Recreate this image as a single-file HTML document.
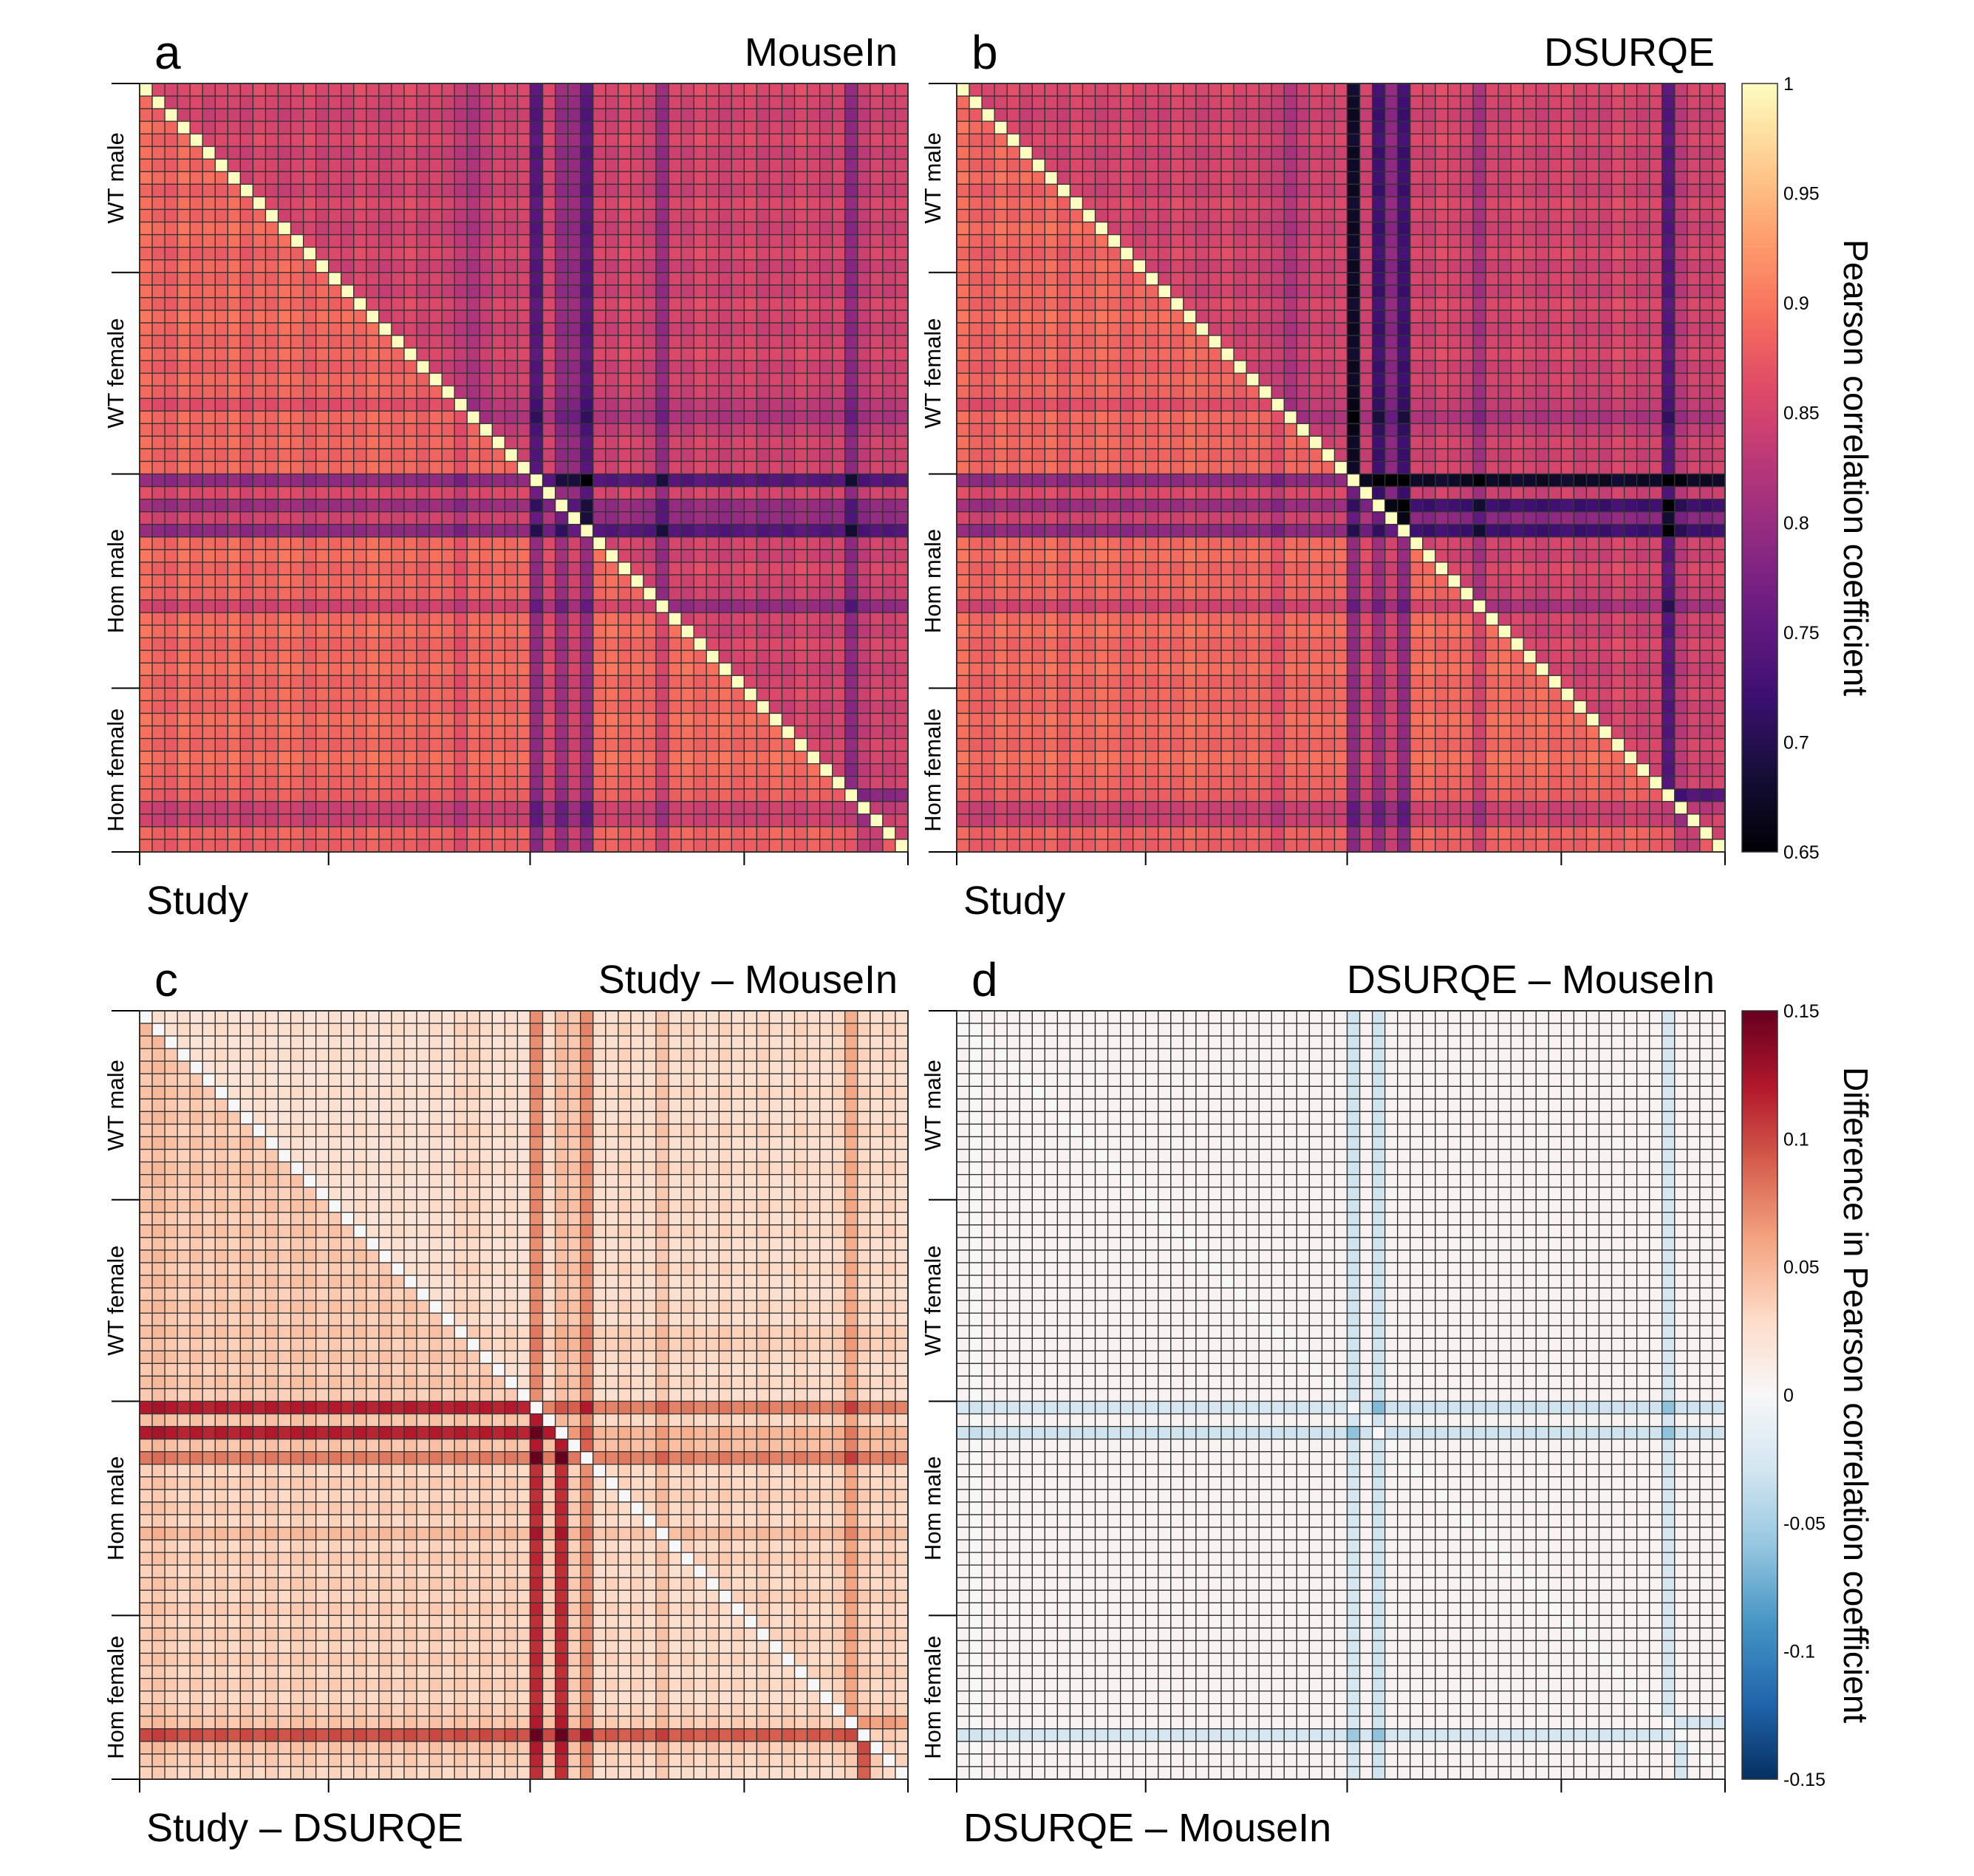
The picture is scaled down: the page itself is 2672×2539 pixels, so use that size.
<!DOCTYPE html>
<html><head><meta charset="utf-8"><style>
html,body{margin:0;padding:0;background:#fff}
svg{display:block}
text{font-family:"Liberation Sans",Arial,sans-serif;fill:#000}
</style></head><body>
<svg id="fig" width="2672" height="2539" viewBox="0 0 2672 2539" xmlns="http://www.w3.org/2000/svg">
<defs>
<linearGradient id="gMag" x1="0" y1="1" x2="0" y2="0"></linearGradient>
<linearGradient id="gRdBu" x1="0" y1="1" x2="0" y2="0"></linearGradient>
</defs>
<g id="panels"></g>
<g id="bars"></g>
</svg>
<script>
// ---- data ----
const groupNames = ["WT male","WT female","Hom male","Hom female"];
const groupBounds = [0,15,31,48,61];
const magTicks = [1,0.95,0.9,0.85,0.8,0.75,0.7,0.65];
const diffTicks = [0.15,0.1,0.05,0,-0.05,-0.1,-0.15];
// per-sample effect estimates
const studyK = [0,0.1,0.15,0,0.1,0.05,0.1,0,0.15,0.05,0.1,0,0.05,0.15,0.05,
 0.1,0.05,0.1,0,0.05,0.1,0.05,0.15,0.05,0.1,0.3,0.05,0.1,0.05,0.1,0.05,
 1.0,0.35,0.9,0.45,1.0,0.05,0,0.1,0.05,0.1,0.45,0.05,0,0.1,0.05,0,0.1,
 0.05,0.1,0,0.05,0.1,0,0.05,0.1,0.15,0.5,0.5,0.1,0.15];
const mouseInK = [0,0.05,0.1,0.05,0,0.1,0.05,0.05,0.1,0,0.05,0.1,0.05,0,0.1,
 0.05,0.1,0,0.05,0.1,0.05,0,0.1,0.05,0.1,0.2,0.3,0.15,0.05,0.1,0.05,
 0.85,0.05,0.45,0.45,0.85,0.05,0.1,0,0.05,0.1,0.45,0.05,0.1,0,0.05,0.1,0.05,
 0,0.1,0.05,0.1,0,0.05,0.1,0.05,0.5,0.15,0.05,0.1,0.05];
const dsurqeK = [0,0.05,0.1,0.05,0,0.1,0.05,0.05,0.1,0,0.05,0.1,0.05,0,0.1,
 0.05,0.1,0,0.05,0.1,0.05,0,0.1,0.05,0.1,0.15,0.3,0.15,0.05,0.1,0.05,
 1.35,0.1,1.0,0.5,1.0,0.05,0.1,0,0.05,0.1,0.35,0.05,0.1,0,0.05,0.1,0.05,
 0,0.1,0.05,0.1,0,0.05,0.1,0.05,0.85,0.2,0.05,0.1,0.05];
const diffCUpper = [0,0.005,0,0.005,0,0,0.005,0,0,0.005,0,0,0.005,0,0,
 0.005,0,0.005,0,0,0.005,0,0,0.005,0,0.01,0.01,0.005,0,0.005,0,
 0.05,0.005,0.025,0.02,0.05,0.005,0.005,0.01,0.005,0.005,0.02,0.005,0.01,0.005,0.005,0.01,0.005,
 0.005,0.01,0.005,0.005,0.01,0.005,0.005,0.01,0.035,0.01,0.005,0.01,0.005];
const diffCLower = [0.01,0.015,0.01,0.005,0.01,0.005,0.01,0.005,0.01,0.005,0.01,0.005,0.01,0.01,0.005,
 0.01,0.005,0.01,0.005,0.01,0.005,0.01,0.005,0.01,0.005,0.01,0.005,0.01,0.005,0.01,0.005,
 0.085,0.01,0.085,0.01,0.045,0,0.005,0,0.005,0,0.015,0,0.005,0,0.005,0,0.005,
 0,0.005,0,0.005,0,0.005,0,0.005,0.01,0.065,0.01,0.005,0];
const diffDUpper = [0,0,0,0,0,0,0,0,0,0,0,0,0,0,0,0,0,0,0,0,0,0,0,0,0,0,0,0,0,0,0,
 -0.035,0,-0.035,0,0,0,0,0,0,0,0,0,0,0,0,0,0,0,0,0,0,0,0,0,0,-0.03,0,0,0,0];
const diffDLower = [0,-0.004,0,0,0,0,0,0,0,0,0,0,0,0,0,0,0,0,0,0,0,0,0,0,0,0,0,0,0,0,0,
 -0.03,0,-0.035,0,0,0,0,0,0,0,0,0,0,0,0,0,0,0,0,0,0,0,0,0,0,0,-0.03,0,0,0];

// ---- layout ----
const N = 61, SIZE = 1040, CS = SIZE/N;
const NS = "http://www.w3.org/2000/svg";
function mk(tag, attrs, parent){ const e=document.createElementNS(NS,tag); for(const k in attrs) e.setAttribute(k,attrs[k]); parent.appendChild(e); return e; }

const magStops=[[0,"#000004"],[0.1,"#140e36"],[0.2,"#3b0f70"],[0.3,"#641a80"],[0.4,"#8c2981"],[0.5,"#b73779"],[0.6,"#de4968"],[0.7,"#f7705c"],[0.8,"#fe9f6d"],[0.9,"#fecf92"],[1,"#fcfdbf"]];
const rdStops=[[0,"#053061"],[0.1,"#2166ac"],[0.2,"#4393c3"],[0.3,"#92c5de"],[0.4,"#d1e5f0"],[0.5,"#f7f7f7"],[0.6,"#fddbc7"],[0.7,"#f4a582"],[0.8,"#d6604d"],[0.9,"#b2182b"],[1,"#67001f"]];
function hex(h){return [parseInt(h.substr(1,2),16),parseInt(h.substr(3,2),16),parseInt(h.substr(5,2),16)];}
function interp(stops,t){ t=Math.max(0,Math.min(1,t));
  for(let i=1;i<stops.length;i++){ if(t<=stops[i][0]){ const a=hex(stops[i-1][1]),b=hex(stops[i][1]); const f=(t-stops[i-1][0])/(stops[i][0]-stops[i-1][0]);
    return "rgb("+a.map((v,k)=>Math.round(v+(b[k]-v)*f)).join(",")+")"; } }
  return stops[stops.length-1][1]; }
const magColor = v => interp(magStops,(v-0.65)/0.35);
const rdColor = v => interp(rdStops,(v+0.15)/0.3);

function cor(k,base,i,j){ return 1-(1-base)*(1+k[i]+k[j]); }
const panels = [
 {id:"a",x:189,y:113,title:"MouseIn",xlab:"Study",col:magColor,
  val:(i,j)=> i===j?1 : (i<j? cor(mouseInK,0.865,i,j) : cor(studyK,0.9,i,j))},
 {id:"b",x:1295,y:113,title:"DSURQE",xlab:"Study",col:magColor,
  val:(i,j)=> i===j?1 : (i<j? cor(dsurqeK,0.865,i,j) : cor(studyK,0.9,i,j))},
 {id:"c",x:189,y:1368,title:"Study \u2013 MouseIn",xlab:"Study \u2013 DSURQE",col:rdColor,
  val:(i,j)=> i===j?0 : (i<j? 0.02+diffCUpper[i]+diffCUpper[j] : 0.025+diffCLower[i]+diffCLower[j])},
 {id:"d",x:1295,y:1368,title:"DSURQE \u2013 MouseIn",xlab:"DSURQE \u2013 MouseIn",col:rdColor,
  val:(i,j)=> i===j?0 : (i<j? 0.004+diffDUpper[i]+diffDUpper[j] : 0.004+diffDLower[i]+diffDLower[j])}
];
const root=document.getElementById("panels");
panels.forEach(p=>{
  const g=mk("g",{},root);
  
  
  const cells=mk("g",{stroke:"#333","stroke-width":"1.3"},g);
  
  
  for(let i=0;i<N;i++) for(let j=0;j<N;j++){
    const r=mk("rect",{x:(p.x+j*CS).toFixed(2),y:(p.y+i*CS).toFixed(2),width:CS.toFixed(2),height:CS.toFixed(2),fill:p.col(p.val(i,j))},cells);
    
    
  }
  const fr=mk("rect",{x:p.x,y:p.y,width:SIZE,height:SIZE,fill:"none",stroke:"#333","stroke-width":"2"},g);
  
  
  groupBounds.forEach(b=>{
    const yy=p.y+b*CS, xx=p.x+b*CS;
    const t1=mk("line",{x1:p.x-38,x2:p.x,y1:yy,y2:yy,stroke:"#000","stroke-width":"2"},g);
    
    
    const t2=mk("line",{x1:xx,x2:xx,y1:p.y+SIZE,y2:p.y+SIZE+18,stroke:"#000","stroke-width":"2"},g);
    
    
  });
  groupNames.forEach((nm,k)=>{
    const cy=p.y+(groupBounds[k]+groupBounds[k+1])/2*CS;
    const t=mk("text",{x:0,y:0,"font-size":"31","text-anchor":"middle",transform:`translate(${p.x-12-10},${cy}) rotate(-90)`},g);
    t.textContent=nm;
    
    
  });
  const lt=mk("text",{x:p.x+20,y:p.y-20,"font-size":"64"},g); lt.textContent=p.id;
  
  
  const tt=mk("text",{x:p.x+SIZE-14,y:p.y-24,"font-size":"54","text-anchor":"end"},g); tt.textContent=p.title;
  
  
  const xl=mk("text",{x:p.x+9,y:p.y+SIZE+84,"font-size":"54"},g); xl.textContent=p.xlab;
  
  
});
// colorbars
function fillGrad(id,cfn,lo,hi){ const gr=document.getElementById(id);
  for(let s=0;s<=20;s++){ mk("stop",{offset:(s/20),"stop-color":cfn(lo+(hi-lo)*s/20)},gr);} }
fillGrad("gMag",magColor,0.65,1);
fillGrad("gRdBu",rdColor,-0.15,0.15);
const bars=document.getElementById("bars");
function colorbar(y0,grad,ticks,lo,hi,title,name){
  const g=mk("g",{},bars);
  
  
  const x0=2358,w=48;
  mk("rect",{x:x0,y:y0,width:w,height:SIZE,fill:`url(#${grad})`,stroke:"#333","stroke-width":"1.5"},g);
  ticks.forEach(v=>{
    const yy=y0+SIZE*(hi-v)/(hi-lo);
    const t=mk("text",{x:x0+w+8,y:yy+9,"font-size":"25"},g); t.textContent=String(v);
    
    
  });
  const t=mk("text",{x:0,y:0,"font-size":"46","text-anchor":"middle",transform:`translate(${2496},${y0+SIZE/2}) rotate(90)`},g);
  t.textContent=title;
  
  
}
colorbar(113,"gMag",magTicks,0.65,1,"Pearson correlation coefficient","colorbar-correlation");
colorbar(1368,"gRdBu",diffTicks,-0.15,0.15,"Difference in Pearson correlation coefficient","colorbar-difference");
</script>
</body></html>
